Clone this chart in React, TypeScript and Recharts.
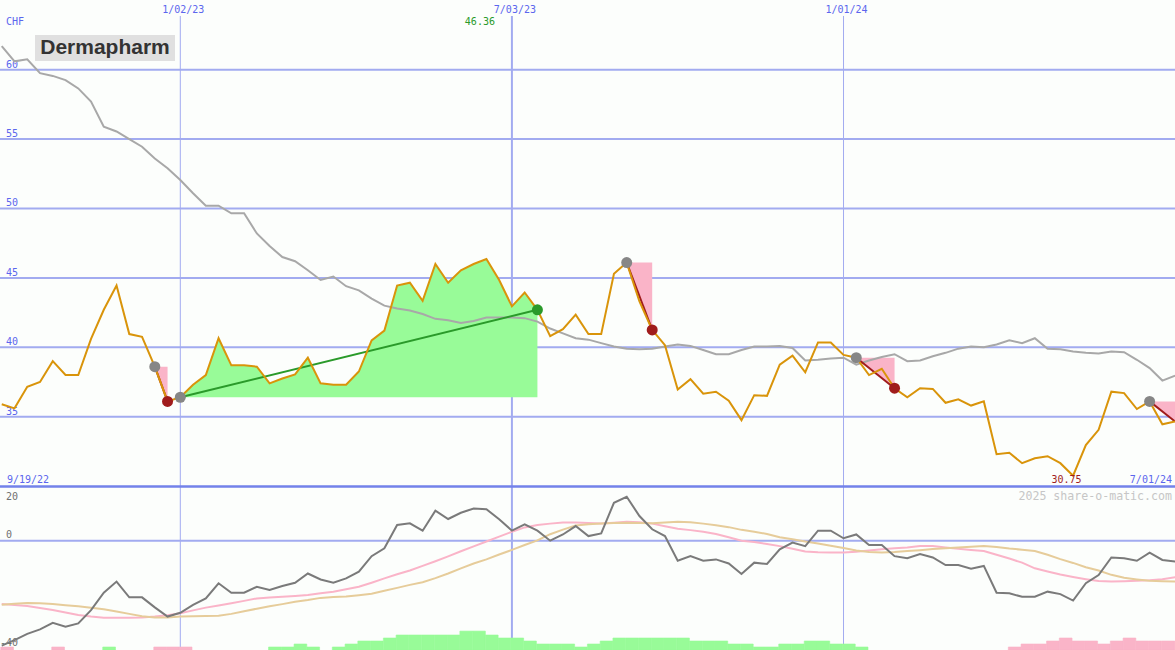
import React from 'react';
import {
  ComposedChart,
  Line,
  Area,
  Bar,
  Cell,
  XAxis,
  YAxis,
  ReferenceLine,
  ReferenceDot,
} from 'recharts';

// ---------- data (weekly, week index 0 = first week on chart) ----------
const price = [
  35.9, 35.6, 37.15, 37.5, 39.0, 38.0, 38.0, 40.6, 42.7, 44.45,
  40.95, 40.75, 38.6, 36.1, 36.4, 37.3, 38.0, 40.65, 38.7, 38.7,
  38.6, 37.4, 37.75, 38.05, 39.25, 37.4, 37.3, 37.3, 38.25, 40.5,
  41.2, 44.45, 44.65, 43.35, 46.0, 44.65, 45.55, 46.0, 46.36, 44.85,
  42.95, 43.95, 42.7, 40.8, 41.3, 42.35, 40.95, 40.95, 45.3, 46.1,
  43.3, 41.25, 40.15, 36.95, 37.7, 36.65, 36.8, 36.15, 34.75, 36.55,
  36.5, 38.75, 39.4, 38.2, 40.35, 40.35, 39.45, 39.25, 38.0, 38.45,
  37.05, 36.4, 37.05, 37.0, 36.0, 36.25, 35.8, 36.1, 32.3, 32.4,
  31.65, 32.0, 32.15, 31.65, 30.75, 32.95, 34.05, 36.8, 36.7, 35.55,
  36.1, 34.45, 34.65,
];

const movingAvg = [
  61.7, 60.6, 60.75, 59.75, 59.55, 59.25, 58.65, 57.7, 55.9, 55.55,
  55.0, 54.45, 53.6, 52.9, 52.05, 51.1, 50.2, 50.2, 49.65, 49.65,
  48.2, 47.3, 46.5, 46.2, 45.55, 44.85, 45.1, 44.4, 44.1, 43.5,
  43.0, 42.8, 42.65, 42.4, 42.05, 41.95, 41.75, 41.9, 42.15, 42.15,
  42.15, 42.1, 41.85, 41.35, 41.0, 40.65, 40.55, 40.3, 40.05, 39.9,
  39.85, 39.9, 40.05, 40.2, 40.1, 39.8, 39.5, 39.5, 39.8, 40.05,
  40.05, 40.1, 39.95, 39.05, 39.1, 39.2, 39.25, 38.75, 39.05, 39.3,
  39.5, 39.0, 39.05, 39.35, 39.6, 39.9, 40.05, 40.0, 40.2, 40.5,
  40.3, 40.65, 39.9, 39.85, 39.7, 39.6, 39.55, 39.7, 39.65, 39.1,
  38.5, 37.6, 37.95,
];

const oscillator = [
  -38.7, -36.7, -34.4, -32.7, -30.3, -31.7, -30.5, -25.6, -19.2, -15.1,
  -20.9, -20.9, -24.6, -28.0, -26.6, -23.7, -21.3, -15.7, -19.2, -19.2,
  -17.0, -18.2, -16.7, -15.5, -12.1, -14.3, -15.5, -13.9, -11.4, -5.7,
  -2.8, 5.8, 6.4, 3.7, 11.1, 8.0, 10.3, 11.9, 11.6, 7.9,
  3.7, 6.0, 3.7, 0.0, 2.3, 5.4, 1.7, 2.7, 14.0, 16.2,
  9.1, 4.2, 1.7, -7.4, -5.7, -7.4, -6.9, -8.4, -12.3, -8.1,
  -8.6, -3.2, -0.7, -2.0, 3.7, 3.7, 0.9, 2.3, -1.6, -1.6,
  -5.7, -6.5, -4.9, -6.2, -9.0, -9.0, -10.3, -9.3, -19.2, -19.4,
  -20.7, -20.7, -18.8, -19.7, -22.1, -15.7, -12.7, -6.2, -6.5, -7.4,
  -4.4, -7.1, -7.7,
];

const signalFast = [
  -23.4, -23.7, -24.1, -24.8, -25.6, -26.5, -27.4, -28.0, -28.4, -28.4,
  -28.4, -28.3, -28.0, -27.5, -26.8, -25.7, -24.7, -23.9, -23.1, -22.2,
  -21.3, -21.0, -20.7, -20.4, -20.0, -19.4, -18.8, -17.9, -17.0, -15.5,
  -13.9, -12.4, -11.0, -9.3, -7.6, -5.8, -3.9, -2.1, -0.3, 1.5,
  3.3, 4.9, 5.8, 6.3, 6.7, 6.7, 6.5, 6.3, 6.6, 7.0,
  6.8, 6.3, 5.3, 4.4, 3.9, 3.3, 2.5, 1.3, 0.0, -0.5,
  -1.2, -2.0, -3.0, -4.0, -4.3, -4.4, -4.4, -4.1, -3.6, -3.2,
  -2.8, -2.5, -2.0, -2.0, -2.5, -3.0, -3.4, -3.8, -5.2, -6.6,
  -8.1, -10.2, -11.4, -12.5, -13.4, -14.2, -14.9, -15.1, -15.0, -14.8,
  -14.6, -14.2, -13.5,
];

const signalSlow = [
  -23.6, -23.3, -23.0, -23.1, -23.4, -23.8, -24.2, -24.7, -25.3, -26.1,
  -27.0, -27.9, -28.3, -28.3, -28.0, -27.9, -27.8, -27.7, -27.0, -26.0,
  -25.1, -24.2, -23.4, -22.5, -21.9, -21.1, -20.8, -20.6, -20.1, -19.6,
  -18.5, -17.4, -16.3, -15.3, -13.8, -12.1, -10.2, -8.4, -6.9, -5.1,
  -3.4, -1.6, 0.1, 2.4, 4.1, 5.6, 6.1, 6.3, 6.5, 6.6,
  6.5, 6.4, 6.7, 7.0, 6.8, 6.3, 5.7, 5.0, 4.0, 3.3,
  2.5, 1.3, 0.5, -0.3, -1.0, -1.9, -2.7, -3.6, -4.2, -4.4,
  -4.2, -3.8, -3.5, -3.1, -2.8, -2.5, -2.2, -2.0, -2.3, -2.9,
  -3.3, -3.8, -5.2, -6.8, -8.2, -9.8, -11.0, -12.6, -13.7, -14.3,
  -14.8, -15.0, -15.1,
];

const histogram = [
  -1, 0, 0, 0, -1, 0, 0, 0, 1, 0,
  0, 0, -1, -1, -1, 0, 0, 0, 0, 0,
  0, 1, 1, 2, 1, 0, 1, 2, 3, 3,
  4, 5, 5, 5, 5, 5, 6.3, 6.3, 5, 4,
  4, 3, 2, 2, 2, 1, 2, 3, 4, 4,
  4, 4, 4, 4, 3, 3, 3, 2, 2, 1,
  1, 2, 2, 3, 3, 2, 2, 1, 0, 0,
  0, 0, 0, 0, 0, 0, 0, 0, 0, -1,
  -2, -2, -3, -4, -3, -3, -2, -3, -4, -3,
  -3, -3, -3,
];

// trades: entry / exit week index
const tradeEntry = [12, 14, 49, 67, 90];
const tradeExit = [13, 42, 51, 70, 92];
const tradeOpen = [false, false, false, false, true];

// axis labels
const priceTicks = [35, 40, 45, 50, 55, 60];
const dateTickWeeks = [14, 40, 66];
const dateTickLabels = ['1/02/23', '7/03/23', '1/01/24'];
const edgeDates = ['9/19/22', '7/01/24'];
const oscTicks = [20, 0, -40];
const currency = 'CHF';
const title = 'Dermapharm';
const credit = '2025 share-o-matic.com';

// ---------- scale set-up ----------
const X_DOMAIN: [number, number] = [-0.137, 91.99];
const P_DOMAIN: [number, number] = [18.19, 65.02];
const O_DOMAIN: [number, number] = [-40.33, 199.5];
const H_DOMAIN: [number, number] = [0, 216.7];
const VLINE_TOP = 63.87;

// ---------- styles ----------
const BG = '#fcfefc';
const GRID = '#a2abf0';
const SEP = '#7382ea';
const BLUE_TXT = '#5b66ee';
const GRAY_TXT = '#707070';
const ORANGE = '#d9940a';
const MA_GRAY = '#a8a8a8';
const OSC_GRAY = '#7a7a7a';
const PINK = '#fab4c8';
const TAN = '#e6cc9a';
const GREEN_FILL = '#98fb98';
const GREEN_LINE = '#2a9a2a';
const DARK_RED = '#a01c1c';
const DOT_GRAY = '#868686';
const MONO = "'DejaVu Sans Mono', 'Liberation Mono', monospace";
const vLineWidths = [1, 2, 1];

// ---------- table ----------
const rows: any[] = price.map((p, i) => ({
  i,
  ib: i + 0.42,
  price: p,
  ma: movingAvg[i],
  osc: oscillator[i],
  sigA: signalFast[i],
  sigB: signalSlow[i],
  hist: histogram[i] === 0 ? null : Math.abs(histogram[i]),
  histUp: histogram[i] >= 0,
}));

const tradeWin = tradeEntry.map((e, k) => price[tradeExit[k]] > price[e]);

tradeEntry.forEach((e, k) => {
  const x = tradeExit[k];
  const pe = price[e];
  const px = price[x];
  rows[e].entryDot = pe;
  if (!tradeOpen[k]) {
    if (tradeWin[k]) rows[x].winDot = px;
    else rows[x].lossDot = px;
  }
  rows[e][`tl${k}`] = pe;
  rows[x][`tl${k}`] = px;
  if (tradeWin[k]) {
    for (let j = e; j <= x; j++) rows[j][`tz${k}`] = [pe, price[j]];
  } else {
    rows[e][`tz${k}`] = [pe, pe];
    rows[x][`tz${k}`] = [px, pe];
  }
});

let maxI = 0;
let minI = 0;
price.forEach((p, i) => {
  if (p > price[maxI]) maxI = i;
  if (p < price[minI]) minI = i;
});

// ---------- label renderers ----------
const hLabel = (text: string, dy: number, color: string) => (props: any) => {
  const vb = props.viewBox || { x: 0, y: 0 };
  const neg = text.startsWith('-');
  return (
    <text x={vb.x + (neg ? 0 : 6)} y={vb.y + dy} fill={color} fontSize={10} fontFamily={MONO}>
      {text}
    </text>
  );
};

const vLabel = (text: string) => (props: any) => {
  const vb = props.viewBox || { x: 0, y: 0 };
  return (
    <text x={vb.x + 3} y={vb.y - 3} fill={BLUE_TXT} fontSize={10} fontFamily={MONO} textAnchor="middle">
      {text}
    </text>
  );
};

const extLabel = (text: string, baseline: number, color: string) => (props: any) => {
  const vb = props.viewBox || { x: 0, y: 0, width: 0 };
  return (
    <text
      x={vb.x + (vb.width || 0) / 2 - 6.5}
      y={baseline}
      fill={color}
      fontSize={10}
      fontFamily={MONO}
      textAnchor="middle"
    >
      {text}
    </text>
  );
};

export default function App() {
  return (
    <div
      style={{
        position: 'absolute',
        left: 0,
        top: 0,
        width: 1175,
        height: 650,
        overflow: 'hidden',
        background: BG,
      }}
    >
      <ComposedChart
        width={1175}
        height={650}
        data={rows}
        margin={{ top: 0, right: 0, bottom: 0, left: 0 }}
        barGap={0}
      >
        <XAxis xAxisId="x" type="number" dataKey="i" domain={X_DOMAIN} allowDataOverflow hide />
        <XAxis xAxisId="xb" type="number" dataKey="ib" domain={X_DOMAIN} allowDataOverflow hide />
        <YAxis yAxisId="p" type="number" domain={P_DOMAIN} allowDataOverflow hide />
        <YAxis yAxisId="o" type="number" domain={O_DOMAIN} allowDataOverflow hide />
        <YAxis yAxisId="h" type="number" domain={H_DOMAIN} allowDataOverflow hide />

        {priceTicks.map((v) => (
          <ReferenceLine
            key={`pg${v}`}
            xAxisId="x"
            yAxisId="p"
            y={v}
            stroke={GRID}
            strokeWidth={2}
            zIndex={50}
            label={hLabel(String(v), -2, BLUE_TXT)}
          />
        ))}

        {dateTickWeeks.map((w, k) => (
          <ReferenceLine
            key={`vd${w}`}
            xAxisId="x"
            yAxisId="p"
            segment={[
              { x: w, y: VLINE_TOP },
              { x: w, y: P_DOMAIN[0] + 0.01 },
            ]}
            stroke={GRID}
            strokeWidth={vLineWidths[k]}
            zIndex={50}
            label={vLabel(dateTickLabels[k])}
          />
        ))}

        <ReferenceLine
          xAxisId="x"
          yAxisId="o"
          y={oscTicks[1]}
          stroke={GRID}
          strokeWidth={2}
          zIndex={50}
          label={hLabel(String(oscTicks[1]), -2.5, GRAY_TXT)}
        />
        <ReferenceLine
          xAxisId="x"
          yAxisId="o"
          y={oscTicks[0]}
          stroke={SEP}
          strokeWidth={2.5}
          zIndex={60}
          label={hLabel(String(oscTicks[0]), 13.5, GRAY_TXT)}
        />
        <ReferenceLine
          xAxisId="x"
          yAxisId="o"
          y={oscTicks[2]}
          stroke="none"
          strokeOpacity={0}
          zIndex={50}
          label={hLabel(String(oscTicks[2]), -3, GRAY_TXT)}
        />

        <Bar
          xAxisId="xb"
          yAxisId="h"
          dataKey="hist"
          barSize={12.74}
          isAnimationActive={false}
        >
          {rows.map((r, k) => (
            <Cell
              key={`h${k}`}
              fill={r.histUp ? GREEN_FILL : PINK}
              stroke={r.histUp ? GREEN_FILL : PINK}
              strokeWidth={0.6}
            />
          ))}
        </Bar>

        {tradeEntry.map((e, k) => (
          <Area
            key={`tz${k}`}
            xAxisId="x"
            yAxisId="p"
            dataKey={`tz${k}`}
            type="linear"
            stroke="none"
            fill={tradeWin[k] ? GREEN_FILL : PINK}
            fillOpacity={1}
            connectNulls={!tradeWin[k]}
            dot={false}
            activeDot={false}
            isAnimationActive={false}
          />
        ))}

        <Line xAxisId="x" yAxisId="o" dataKey="sigA" type="linear" stroke={PINK} strokeWidth={2} dot={false} activeDot={false} isAnimationActive={false} />
        <Line xAxisId="x" yAxisId="o" dataKey="sigB" type="linear" stroke={TAN} strokeWidth={2} dot={false} activeDot={false} isAnimationActive={false} />
        <Line xAxisId="x" yAxisId="o" dataKey="osc" type="linear" stroke={OSC_GRAY} strokeWidth={2} dot={false} activeDot={false} isAnimationActive={false} />

        <Line xAxisId="x" yAxisId="p" dataKey="ma" type="linear" stroke={MA_GRAY} strokeWidth={2} dot={false} activeDot={false} isAnimationActive={false} />

        {tradeEntry.map((e, k) => (
          <Line
            key={`tl${k}`}
            xAxisId="x"
            yAxisId="p"
            dataKey={`tl${k}`}
            type="linear"
            stroke={tradeWin[k] ? GREEN_LINE : DARK_RED}
            strokeWidth={2}
            connectNulls
            dot={false}
            activeDot={false}
            isAnimationActive={false}
          />
        ))}

        <Line xAxisId="x" yAxisId="p" dataKey="entryDot" stroke="none" dot={{ r: 5.5, fill: DOT_GRAY, stroke: 'none', strokeWidth: 0 }} activeDot={false} isAnimationActive={false} />
        <Line xAxisId="x" yAxisId="p" dataKey="lossDot" stroke="none" dot={{ r: 5.5, fill: DARK_RED, stroke: 'none', strokeWidth: 0 }} activeDot={false} isAnimationActive={false} />
        <Line xAxisId="x" yAxisId="p" dataKey="winDot" stroke="none" dot={{ r: 5.5, fill: GREEN_LINE, stroke: 'none', strokeWidth: 0 }} activeDot={false} isAnimationActive={false} />

        <Line xAxisId="x" yAxisId="p" dataKey="price" type="linear" stroke={ORANGE} strokeWidth={2} dot={false} activeDot={false} isAnimationActive={false} />

        <ReferenceDot
          xAxisId="x"
          yAxisId="p"
          x={maxI}
          y={price[maxI]}
          r={1}
          fill="none"
          stroke="none"
          label={extLabel(price[maxI].toFixed(2), 25, GREEN_LINE)}
        />
        <ReferenceDot
          xAxisId="x"
          yAxisId="p"
          x={minI}
          y={price[minI]}
          r={1}
          fill="none"
          stroke="none"
          label={extLabel(price[minI].toFixed(2), 483, DARK_RED)}
        />
      </ComposedChart>

      <svg
        width={1175}
        height={650}
        style={{ position: 'absolute', left: 0, top: 0, pointerEvents: 'none' }}
      >
        <text x={6} y={25} fill={BLUE_TXT} fontSize={10} fontFamily={MONO}>
          {currency}
        </text>
        <text x={7} y={483} fill={BLUE_TXT} fontSize={10} fontFamily={MONO}>
          {edgeDates[0]}
        </text>
        <text x={1172} y={483} fill={BLUE_TXT} fontSize={10} fontFamily={MONO} textAnchor="end">
          {edgeDates[1]}
        </text>
        <text x={1172} y={500} fill="#c6c6c6" fontSize={11.6} fontFamily={MONO} textAnchor="end">
          {credit}
        </text>
        <rect x={35} y={35} width={140} height={26} fill="#e0e0e0" />
        <text
          x={105}
          y={54}
          fill="#333333"
          fontSize={21}
          fontWeight="bold"
          fontFamily="'Liberation Sans', Arial, sans-serif"
          textAnchor="middle"
        >
          {title}
        </text>
      </svg>
    </div>
  );
}
